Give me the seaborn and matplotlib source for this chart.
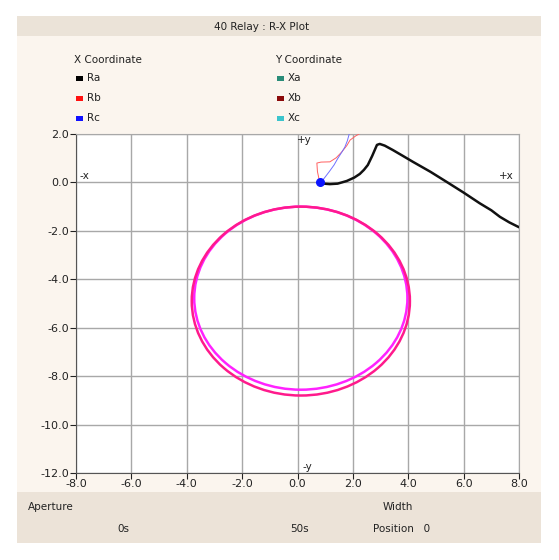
import matplotlib
matplotlib.use("Agg")
import matplotlib.pyplot as plt
from matplotlib.patches import Ellipse, Rectangle
import seaborn as sns
import pandas as pd

# Ra trajectory (black)
ra_r = [0.80, 0.95, 1.17, 1.45, 1.78, 2.05, 2.25, 2.40, 2.54, 2.70, 2.87, 2.97, 3.15, 3.44, 3.80, 4.17, 4.80, 5.39, 6.00, 6.58, 7.00, 7.31, 7.65, 8.00]
ra_x = [0.00, -0.05, -0.07, -0.05, 0.06, 0.20, 0.35, 0.52, 0.72, 1.10, 1.55, 1.59, 1.52, 1.34, 1.10, 0.85, 0.44, 0.02, -0.42, -0.86, -1.15, -1.42, -1.65, -1.85]
# Rb trajectory (red, thin)
rb_r = [0.80, 0.77, 0.72, 0.70, 0.85, 1.17, 1.40, 1.60, 1.78, 1.90, 2.10, 2.30]
rb_x = [0.02, 0.18, 0.45, 0.80, 0.84, 0.85, 1.02, 1.26, 1.52, 1.75, 1.92, 2.05]
# Rc trajectory (blue, thin)
rc_r = [0.80, 0.95, 1.15, 1.32, 1.46, 1.60, 1.71, 1.80, 1.88]
rc_x = [0.00, 0.15, 0.45, 0.72, 1.00, 1.25, 1.46, 1.72, 2.05]

# mho circles: centre R, centre X, width, height
circle_cr = [0.12, 0.12]
circle_cx = [-4.78, -4.90]
circle_w = [7.70, 7.88]
circle_h = [7.56, 7.80]
circle_colors = ["#ff22ff", "#ff1a8c"]

x_ticks = [-8, -6, -4, -2, 0, 2, 4, 6, 8]
y_ticks = [-12, -10, -8, -6, -4, -2, 0, 2]

legend_x = ["Ra", "Rb", "Rc"]
legend_x_colors = ["#000000", "#ff1010", "#1010ff"]
legend_y = ["Xa", "Xb", "Xc"]
legend_y_colors = ["#2a8c78", "#8b0a0a", "#3cc4cc"]

sns.set_style("white")
plt.rcParams["font.family"] = ["DejaVu Sans"]

fig = plt.figure(figsize=(5.59, 5.60), dpi=100)
fig.patch.set_facecolor("white")

W, H = 559.0, 560.0
def fx(px):
    return px / W
def fy(py):
    return 1 - py / H

# panel background
fig.patches.append(Rectangle((fx(17), fy(543)), (541 - 17) / W, (543 - 16) / H,
                             transform=fig.transFigure, facecolor="#fbf5ee", edgecolor="none", zorder=-3))
fig.patches.append(Rectangle((fx(17), fy(36)), (541 - 17) / W, 20 / H,
                             transform=fig.transFigure, facecolor="#ebe3d8", edgecolor="none", zorder=-2))
fig.patches.append(Rectangle((fx(17), fy(543)), (541 - 17) / W, (543 - 492) / H,
                             transform=fig.transFigure, facecolor="#ece3d8", edgecolor="none", zorder=-2))

fig.text(fx(262), fy(27), "40 Relay : R-X Plot", ha="center", va="center", fontsize=7.5, color="#222222")

# legend block
fig.text(fx(74), fy(60), "X Coordinate", ha="left", va="center", fontsize=7.5, color="#222222")
fig.text(fx(275), fy(60), "Y Coordinate", ha="left", va="center", fontsize=7.5, color="#222222")
for i in range(3):
    yy = 78 + i * 20
    fig.patches.append(Rectangle((fx(76), fy(yy + 3)), 7 / W, 5 / H, transform=fig.transFigure,
                                 facecolor=legend_x_colors[i], edgecolor="none"))
    fig.text(fx(87), fy(yy), legend_x[i], ha="left", va="center", fontsize=7.5, color="#222222")
    fig.patches.append(Rectangle((fx(277), fy(yy + 3)), 7 / W, 5 / H, transform=fig.transFigure,
                                 facecolor=legend_y_colors[i], edgecolor="none"))
    fig.text(fx(288), fy(yy), legend_y[i], ha="left", va="center", fontsize=7.5, color="#222222")

# bottom info strip
fig.text(fx(28), fy(507), "Aperture", ha="left", va="center", fontsize=7.5, color="#222222")
fig.text(fx(383), fy(507), "Width", ha="left", va="center", fontsize=7.5, color="#222222")
fig.text(fx(117), fy(529), "0s", ha="left", va="center", fontsize=7.5, color="#222222")
fig.text(fx(290), fy(529), "50s", ha="left", va="center", fontsize=7.5, color="#222222")
fig.text(fx(373), fy(529), "Position   0", ha="left", va="center", fontsize=7.5, color="#222222")

ax = fig.add_axes([fx(76), fy(473), (519 - 76) / W, (473 - 134) / H])
ax.set_zorder(2)
ax.set_facecolor("white")

for i in range(len(circle_cr)):
    ax.add_patch(Ellipse((circle_cr[i], circle_cx[i]), circle_w[i], circle_h[i],
                         facecolor="none", edgecolor=circle_colors[i], lw=1.8, zorder=3))

df_a = pd.DataFrame({"R": ra_r, "X": ra_x})
df_b = pd.DataFrame({"R": rb_r, "X": rb_x})
df_c = pd.DataFrame({"R": rc_r, "X": rc_x})
sns.lineplot(data=df_b, x="R", y="X", sort=False, color="#ff6060", lw=0.7, ax=ax, zorder=4)
sns.lineplot(data=df_c, x="R", y="X", sort=False, color="#7070ff", lw=0.7, ax=ax, zorder=4)
sns.lineplot(data=df_a, x="R", y="X", sort=False, color="#111111", lw=1.8, ax=ax, zorder=5)
ax.scatter([ra_r[0]], [ra_x[0]], s=30, color="#0a14ff", zorder=6)

ax.set_xlim(-8, 8)
ax.set_ylim(-12, 2)
ax.set_xticks(x_ticks)
ax.set_yticks(y_ticks)
ax.set_xticklabels(["%.1f" % v for v in x_ticks])
ax.set_yticklabels(["%.1f" % v for v in y_ticks])
ax.tick_params(axis="both", labelsize=8, colors="#222222", length=4, width=0.8,
               direction="out", bottom=True, left=True, pad=1)
ax.tick_params(axis="x", pad=0)
ax.grid(True, color="#a8a8a8", lw=1.0)
ax.set_axisbelow(True)
for s in ["top", "right"]:
    ax.spines[s].set_color("#a8a8a8")
for s in ["left", "bottom"]:
    ax.spines[s].set_color("#555555")
ax.set_xlabel("")
ax.set_ylabel("")

ax.text(0.25, 1.55, "+y", ha="center", va="bottom", fontsize=7.5, color="#222222")
ax.text(7.55, 0.05, "+x", ha="center", va="bottom", fontsize=7.5, color="#222222")
ax.text(-7.7, 0.05, "-x", ha="center", va="bottom", fontsize=7.5, color="#222222")
ax.text(0.35, -11.95, "-y", ha="center", va="bottom", fontsize=7.5, color="#222222")

fig.savefig("out.png", dpi=100, facecolor=fig.get_facecolor())
